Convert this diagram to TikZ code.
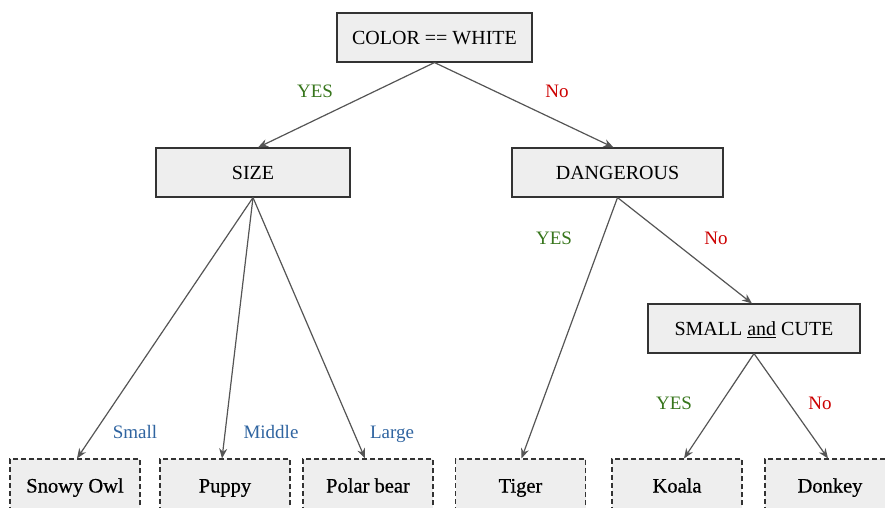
\documentclass[tikz,border=0pt]{standalone}
\usepackage{fontspec}
\setmainfont{Liberation Serif}
\newfontfamily\leaffont[FakeBold=0.6]{Liberation Serif}
\usetikzlibrary{arrows.meta}
\definecolor{boxfill}{HTML}{EEEEEE}
\definecolor{boxline}{HTML}{333333}
\definecolor{edgecol}{HTML}{555555}
\definecolor{yescol}{HTML}{38761D}
\definecolor{nocol}{HTML}{CC0000}
\definecolor{sizecol}{HTML}{2F64A0}
\tikzset{
  test/.style={draw=boxline, fill=boxfill, line width=1.1pt, minimum width=195pt,
    minimum height=49pt, inner sep=0pt, text height=14pt, text depth=0pt,
    font=\fontsize{20}{24}\selectfont},
  leaf/.style={draw=boxline, fill=boxfill, line width=1.1pt, dash pattern=on 5pt off 3pt,
    minimum width=130pt, minimum height=52pt, inner sep=0pt, text height=15pt, text depth=0pt,
    font=\fontsize{20.5}{24}\leaffont},
  edge/.style={draw=edgecol, line width=1.2pt, -{Stealth[length=10pt,width=8pt]}},
  lbl/.style={font=\fontsize{19}{22}\selectfont, text height=13pt, text depth=0pt, inner sep=0pt},
}
\begin{document}
\begin{tikzpicture}[x=1pt,y=-1pt]
\useasboundingbox (0,0) rectangle (885,507);
% decision nodes
\node[test] (color) at (434.5,37.5) {COLOR == WHITE};
\node[test, minimum width=194pt] (size) at (253,172.5) {SIZE};
\node[test, minimum width=211pt] (danger) at (617.5,172.5) {DANGEROUS};
\node[test, minimum width=212pt] (cute) at (754,328.5) {SMALL \underline{and} CUTE};
% leaves
\node[leaf] (owl) at (75,485) {Snowy Owl};
\node[leaf] (puppy) at (225,485) {Puppy};
\node[leaf] (polar) at (368,485) {Polar bear};
\node[leaf] (tiger) at (520.5,485) {Tiger};
\node[leaf] (koala) at (677,485) {Koala};
\node[leaf] (donkey) at (830,485) {Donkey};
% connectors
\draw[edge] (color.south) -- ([xshift=5pt]size.north);
\draw[edge] (color.south) -- ([xshift=-4pt]danger.north);
\draw[edge] (size.south) -- ([xshift=2pt]owl.north);
\draw[edge] (size.south) -- ([xshift=-3pt]puppy.north);
\draw[edge] (size.south) -- ([xshift=-3pt]polar.north);
\draw[edge] (danger.south) -- ([xshift=1pt]tiger.north);
\draw[edge] (danger.south) -- ([xshift=-2pt]cute.north);
\draw[edge] (cute.south) -- ([xshift=7pt]koala.north);
\draw[edge] (cute.south) -- ([xshift=-2pt]donkey.north);
% branch labels
\node[lbl, text=yescol] (l1) at (315,91) {YES};
\node[lbl, text=nocol] (l2) at (557,91) {No};
\node[lbl, text=sizecol] (l3) at (135,432) {Small};
\node[lbl, text=sizecol] (l4) at (271,432) {Middle};
\node[lbl, text=sizecol] (l5) at (392,432) {Large};
\node[lbl, text=yescol] (l6) at (554,238) {YES};
\node[lbl, text=nocol] (l7) at (716,238) {No};
\node[lbl, text=yescol] (l8) at (674,403) {YES};
\node[lbl, text=nocol] (l9) at (820,403) {No};
\end{tikzpicture}
\end{document}
